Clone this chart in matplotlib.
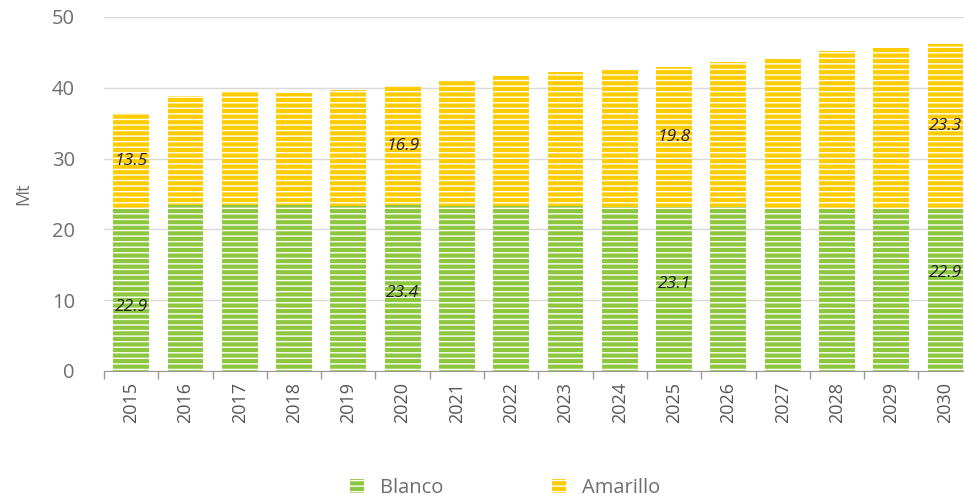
import numpy as np
import matplotlib.pyplot as plt
import matplotlib.patches as mpatches

# ── datos ──
years = ['2015', '2016', '2017', '2018', '2019', '2020', '2021', '2022',
         '2023', '2024', '2025', '2026', '2027', '2028', '2029', '2030']
blanco = [22.9, 23.5, 23.5, 23.4, 23.3, 23.4, 23.3, 23.3,
          23.3, 23.2, 23.1, 23.1, 23.0, 22.9, 22.9, 22.9]
amarillo = [13.5, 15.3, 15.9, 15.9, 16.4, 16.9, 17.7, 18.3,
            18.9, 19.5, 19.8, 20.5, 21.1, 22.3, 22.7, 23.3]

# etiquetas mostradas (índice de año)
label_idx = [0, 5, 10, 15]
blanco_label_y = [9.0, 11.0, 12.3, 13.8]

GREEN = '#8DC63F'
YELLOW = '#FFCC00'
GRAY = '#6d6e71'

plt.rcParams['font.family'] = ['Open Sans', 'DejaVu Sans']
plt.rcParams['hatch.linewidth'] = 1.0

fig = plt.figure(figsize=(9.64, 4.99), dpi=100)
ax = fig.add_axes([104/964, 1 - 371/499, 1 - 104/964, (371 - 17)/499])

x = np.arange(len(years))
w = 0.66
ax.bar(x, blanco, w, color=GREEN, edgecolor='white', linewidth=0, hatch='---', zorder=3)
ax.bar(x, amarillo, w, bottom=blanco, color=YELLOW, edgecolor='white', linewidth=0,
       hatch='---', zorder=3)

for k, i in enumerate(label_idx):
    ax.text(x[i], blanco_label_y[k], f'{blanco[i]:.1f}', ha='center', va='center',
            fontsize=12.5, style='italic', color='#222222', zorder=5)
    ax.text(x[i], blanco[i] + amarillo[i] / 2, f'{amarillo[i]:.1f}', ha='center',
            va='center', fontsize=12.5, style='italic', color='#222222', zorder=5)

ax.set_xlim(-0.5, 15.34)
ax.set_ylim(0, 50)
ax.set_yticks(range(0, 51, 10))
ax.yaxis.grid(True, color='#d9d9d9', linewidth=1, zorder=0)
ax.tick_params(axis='y', length=0, labelsize=14.5, labelcolor=GRAY, pad=21)
ax.set_ylabel('Mt', fontsize=13, color=GRAY, labelpad=14)

ax.set_xticks(x)
ax.set_xticklabels(years, rotation=90, fontsize=13, color='#555555')
ax.tick_params(axis='x', length=0, pad=8)
ax.set_xticks(np.arange(-0.5, 15.5, 1), minor=True)
ax.tick_params(axis='x', which='minor', length=6, color='#999999', width=1)

for s in ['top', 'right', 'left']:
    ax.spines[s].set_visible(False)
ax.spines['bottom'].set_color('#999999')

handles = [mpatches.Patch(facecolor=GREEN, edgecolor='white', linewidth=0, hatch='---', label='Blanco'),
           mpatches.Patch(facecolor=YELLOW, edgecolor='white', linewidth=0, hatch='---', label='Amarillo')]
leg = fig.legend(handles=handles, loc='center', bbox_to_anchor=(0.524, 0.022), ncol=2,
                 frameon=False, fontsize=14.5, handlelength=0.7, handleheight=0.7,
                 columnspacing=5.4, handletextpad=0.8)
for t in leg.get_texts():
    t.set_color(GRAY)

fig.savefig('out.png', dpi=100)
